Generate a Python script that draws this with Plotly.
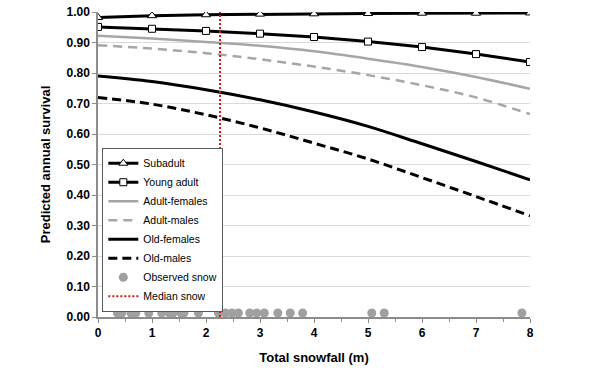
import plotly.graph_objects as go

# predicted annual survival by total snowfall (m)
snow = [0, 1, 2, 3, 4, 5, 6, 7, 8]

subadult = [0.982, 0.988, 0.991, 0.993, 0.994, 0.995, 0.996, 0.996, 0.997]
young_adult = [0.951, 0.945, 0.938, 0.929, 0.918, 0.903, 0.885, 0.862, 0.836]
adult_females = [0.922, 0.913, 0.902, 0.889, 0.871, 0.847, 0.820, 0.787, 0.748]
adult_males = [0.891, 0.880, 0.865, 0.845, 0.821, 0.793, 0.760, 0.720, 0.665]
old_females = [0.790, 0.772, 0.745, 0.712, 0.672, 0.625, 0.568, 0.510, 0.450]
old_males = [0.720, 0.698, 0.663, 0.620, 0.570, 0.518, 0.457, 0.395, 0.332]

# observed snow years (plotted along the bottom)
observed_snow = [0.36, 0.44, 0.61, 0.70, 0.94, 1.18, 1.32, 1.39, 1.54, 1.59, 1.86,
                 2.23, 2.36, 2.48, 2.60, 2.81, 2.94, 3.08, 3.33, 3.56, 3.79,
                 5.07, 5.30, 7.85]
observed_level = 0.013
median_snow = 2.26

FONT = "Liberation Sans, Arial, sans-serif"

fig = go.Figure()

fig.add_trace(go.Scatter(
    x=snow, y=subadult, mode="lines+markers", name="Subadult",
    line=dict(color="black", width=3),
    marker=dict(symbol="triangle-up", size=8, color="white",
                line=dict(color="black", width=1))
))
fig.add_trace(go.Scatter(
    x=snow, y=young_adult, mode="lines+markers", name="Young adult",
    line=dict(color="black", width=3),
    marker=dict(symbol="square", size=7, color="white",
                line=dict(color="black", width=1))
))
fig.add_trace(go.Scatter(
    x=snow, y=adult_females, mode="lines", name="Adult-females",
    line=dict(color="#A6A6A6", width=2.5, shape="spline")
))
fig.add_trace(go.Scatter(
    x=snow, y=adult_males, mode="lines", name="Adult-males",
    line=dict(color="#A6A6A6", width=2.5, dash="9px,6px", shape="spline")
))
fig.add_trace(go.Scatter(
    x=snow, y=old_females, mode="lines", name="Old-females",
    line=dict(color="black", width=3, shape="spline")
))
fig.add_trace(go.Scatter(
    x=snow, y=old_males, mode="lines", name="Old-males",
    line=dict(color="black", width=3, dash="9px,5px", shape="spline")
))
fig.add_trace(go.Scatter(
    x=observed_snow, y=[observed_level] * len(observed_snow), mode="markers",
    name="Observed snow",
    marker=dict(symbol="circle", size=9, color="#A0A0A0")
))
fig.add_trace(go.Scatter(
    x=[median_snow, median_snow], y=[0, 1], mode="lines", name="Median snow",
    line=dict(color="#E01010", width=2, dash="2px,2px")
))

fig.update_layout(
    width=597, height=376,
    margin=dict(l=98, r=67, t=12, b=59, autoexpand=False),
    paper_bgcolor="white", plot_bgcolor="white",
    font=dict(family=FONT, color="black", size=12),
    legend=dict(
        x=0.01, y=0.555, xanchor="left", yanchor="top",
        bgcolor="white", bordercolor="#5A5A5A", borderwidth=1,
        font=dict(family=FONT, size=10.5, color="black"),
        tracegroupgap=0, itemwidth=30,
    ),
)

fig.update_xaxes(
    range=[0, 8], dtick=1, tick0=0, automargin=False,
    showgrid=False, zeroline=False,
    showline=True, linecolor="#8C8C8C", linewidth=1.5,
    ticks="outside", ticklen=4, tickcolor="#8C8C8C",
    minor=dict(dtick=0.5, ticks="outside", ticklen=3, tickcolor="#8C8C8C"),
    tickfont=dict(family=FONT, size=12, weight="bold"),
    title=dict(text="Total snowfall (m)", standoff=14,
               font=dict(family=FONT, size=13, weight="bold")),
)
fig.update_yaxes(
    range=[0, 1], dtick=0.1, tick0=0, tickformat=".2f", automargin=False,
    showgrid=True, gridcolor="#DADADA", gridwidth=1,
    zeroline=False,
    showline=True, linecolor="#8C8C8C", linewidth=1.5,
    ticks="outside", ticklen=4, tickcolor="#8C8C8C",
    tickfont=dict(family=FONT, size=12, weight="bold"),
    title=dict(text="Predicted annual survival", standoff=13,
               font=dict(family=FONT, size=13, weight="bold")),
)

fig.write_html("out.html", config={"displayModeBar": False},
               post_script="document.body.style.margin='0';")
